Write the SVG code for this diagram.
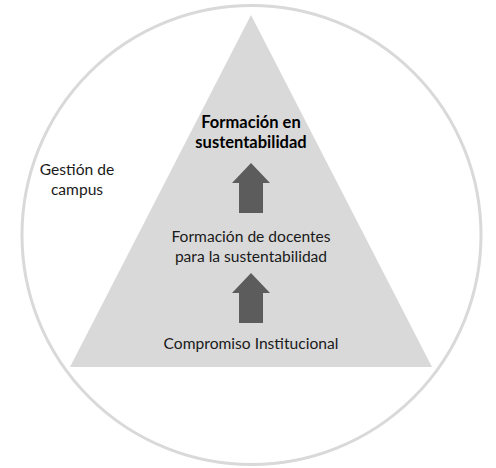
<svg xmlns="http://www.w3.org/2000/svg" width="496" height="468" viewBox="0 0 496 468">
<style>
.t{font-family:Lato,"Noto Sans",sans-serif;fill:#1a1a1a;text-anchor:middle}
.n{font-size:15.6px}
.b{font-size:16.5px;font-weight:bold;fill:#000}
.arrow{fill:#5c5c5c}
</style>
<rect width="496" height="468" fill="#fff"/>
<g id="campus">
<circle cx="251.5" cy="235" r="229.5" fill="none" stroke="#d9d9d9" stroke-width="3"/>
<text class="t n" x="77" y="175">Gestión de</text>
<text class="t n" x="77" y="195">campus</text>
</g>
<g id="pyramid">
<polygon points="251,15 432,367 70,367" fill="#d9d9d9"/>
</g>
<g id="formacion">
<text class="t b" x="251" y="128">Formación en</text>
<text class="t b" x="251" y="148">sustentabilidad</text>
</g>
<g id="docentes">
<text class="t n" x="251" y="242">Formación de docentes</text>
<text class="t n" x="251" y="262">para la sustentabilidad</text>
</g>
<g id="compromiso">
<text class="t n" x="251" y="349">Compromiso Institucional</text>
</g>
<g id="connectors">
<polygon class="arrow" points="251,163 270,183 263,183 263,213 239,213 239,183 232,183"/>
<polygon class="arrow" points="251,273 270,293 263,293 263,323 239,323 239,293 232,293"/>
</g>
</svg>
